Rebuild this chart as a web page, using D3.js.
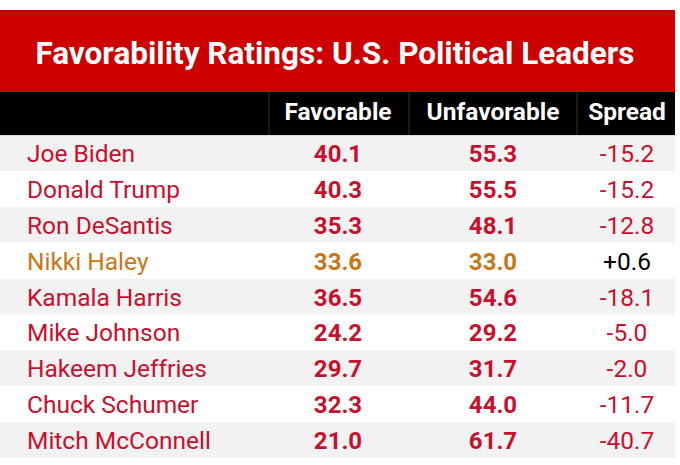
<!DOCTYPE html>
<html>
<head>
<meta charset="utf-8">
<script src="https://cdn.jsdelivr.net/npm/d3@7"></script>
<style>
  body { margin: 0; background: #fff; }
  text { font-family: Roboto, "Noto Sans", sans-serif; }
</style>
</head>
<body>
<div id="chart"></div>
<script>
var title = "Favorability Ratings: U.S. Political Leaders";
var columns = ["Favorable", "Unfavorable", "Spread"];
var names = ["Joe Biden", "Donald Trump", "Ron DeSantis", "Nikki Haley", "Kamala Harris",
             "Mike Johnson", "Hakeem Jeffries", "Chuck Schumer", "Mitch McConnell"];
var favorable = [40.1, 40.3, 35.3, 33.6, 36.5, 24.2, 29.7, 32.3, 21.0];
var unfavorable = [55.3, 55.5, 48.1, 33.0, 54.6, 29.2, 31.7, 44.0, 61.7];
var spread = ["-15.2", "-15.2", "-12.8", "+0.6", "-18.1", "-5.0", "-2.0", "-11.7", "-40.7"];

var W = 680, H = 465;
var left = 0, right = 675;
var titleTop = 10, headTop = 92, rowsTop = 135.3, rowsBottom = 458;

var red = "#cc0000", textRed = "#c8102e", orange = "#c97715";

var svg = d3.select("#chart").append("svg")
  .attr("width", W).attr("height", H);

var y = d3.scaleBand().domain(d3.range(names.length)).range([rowsTop, rowsBottom]).padding(0);
var colCenter = d3.scaleOrdinal().domain(columns).range([338, 493, 627]);
var colEdges = [269, 409, 577];

// title bar
svg.append("rect").attr("x", left).attr("y", titleTop)
  .attr("width", right - left).attr("height", headTop - titleTop).attr("fill", red);
svg.append("text").attr("x", 335).attr("y", 64)
  .attr("text-anchor", "middle").attr("fill", "#fff")
  .attr("font-size", 31.5).attr("font-weight", 700)
  .text(title);

// column header row
svg.append("rect").attr("x", left).attr("y", headTop)
  .attr("width", right - left).attr("height", rowsTop - headTop).attr("fill", "#000");
svg.selectAll("line.div").data(colEdges).enter().append("line")
  .attr("x1", function(d) { return d; }).attr("x2", function(d) { return d; })
  .attr("y1", headTop).attr("y2", rowsTop)
  .attr("stroke", "#333").attr("stroke-width", 1);
svg.selectAll("text.head").data(columns).enter().append("text")
  .attr("x", function(d) { return colCenter(d); }).attr("y", 120)
  .attr("text-anchor", "middle").attr("fill", "#fff")
  .attr("font-size", 24.5).attr("font-weight", 700)
  .text(function(d) { return d; });

// rows
var rows = svg.selectAll("g.row").data(names).enter().append("g")
  .attr("transform", function(d, i) { return "translate(0," + y(i) + ")"; });

rows.append("rect").attr("x", left).attr("width", right - left)
  .attr("height", y.bandwidth())
  .attr("fill", function(d, i) { return i % 2 === 0 ? "#f2f2f2" : "#fff"; });

var base = y.bandwidth() / 2 + 9;
function rowColor(i) { return names[i] === "Nikki Haley" ? orange : textRed; }

rows.append("text").attr("x", 27).attr("y", base)
  .attr("font-size", 24.5).attr("fill", function(d, i) { return rowColor(i); })
  .text(function(d) { return d; });

rows.append("text").attr("x", colCenter("Favorable")).attr("y", base)
  .attr("text-anchor", "middle").attr("font-size", 24).attr("font-weight", 700)
  .attr("fill", function(d, i) { return rowColor(i); })
  .text(function(d, i) { return favorable[i].toFixed(1); });

rows.append("text").attr("x", colCenter("Unfavorable")).attr("y", base)
  .attr("text-anchor", "middle").attr("font-size", 24).attr("font-weight", 700)
  .attr("fill", function(d, i) { return rowColor(i); })
  .text(function(d, i) { return unfavorable[i].toFixed(1); });

rows.append("text").attr("x", colCenter("Spread")).attr("y", base)
  .attr("text-anchor", "middle").attr("font-size", 24.5)
  .attr("fill", function(d, i) { return spread[i].charAt(0) === "+" ? "#000" : textRed; })
  .text(function(d, i) { return spread[i]; });
</script>
</body>
</html>
